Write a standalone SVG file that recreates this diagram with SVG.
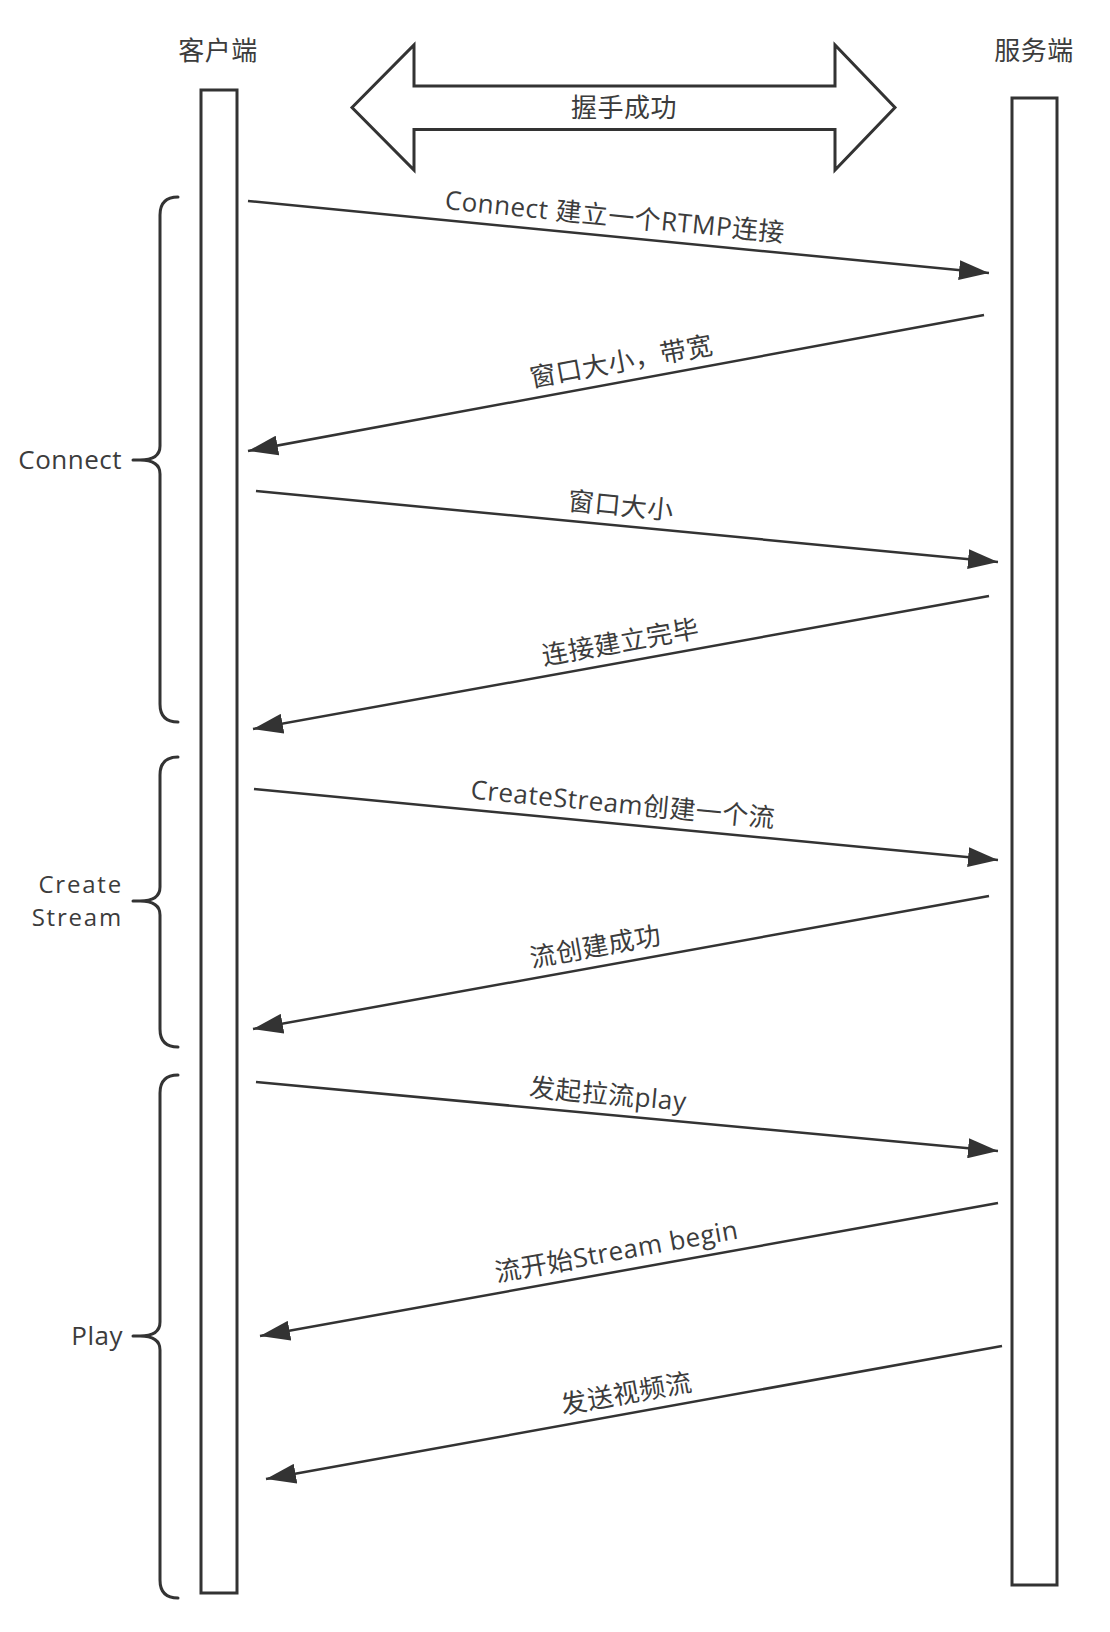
<svg xmlns="http://www.w3.org/2000/svg" width="1110" height="1632" viewBox="0 0 1110 1632">
<defs>
<style>
.t{font-family:"Open Sans","Noto Sans CJK SC",sans-serif;font-size:26px;fill:#3c3c3c;letter-spacing:0.5px}
.s{font-size:24px;letter-spacing:1.8px}
.m{text-anchor:middle}
.e{text-anchor:end}
.box{fill:#fff;stroke:#333;stroke-width:3}
.ln{stroke:#333;stroke-width:2.5;fill:none}
.br{stroke:#333;stroke-width:3;fill:none;stroke-linecap:round}
</style>
<marker id="ah" markerUnits="userSpaceOnUse" markerWidth="30" markerHeight="20" refX="30" refY="10" orient="auto">
<path d="M0,0 L30,10 L0,20 z" fill="#333"/>
</marker>
</defs>
<rect width="1110" height="1632" fill="#fff"/>

<g id="client">
<text class="t m" x="218" y="60">客户端</text>
<rect class="box" x="201" y="90" width="36" height="1503"/>
</g>
<g id="server">
<text class="t m" x="1034" y="60">服务端</text>
<rect class="box" x="1012" y="98" width="45" height="1487"/>
</g>
<g id="handshake">
<polygon class="box" points="352,107.5 414,45 414,86 835,86 835,45 895,107.5 835,170 835,129.5 414,129.5 414,170"/>
<text class="t m" x="624" y="117">握手成功</text>
</g>

<g id="brace-connect">
<path class="br" d="M178,197 Q160,197 160,215 L160,446 Q160,460 140,460 L133,460 M140,460 Q160,460 160,474 L160,704 Q160,722 178,722"/>
<text class="t e" x="122" y="469">Connect</text>
</g>
<g id="brace-create">
<path class="br" d="M178,757 Q160,757 160,775 L160,887 Q160,901 140,901 L133,901 M140,901 Q160,901 160,915 L160,1029 Q160,1047 178,1047"/>
<text class="t s e" x="123" y="893">Create</text>
<text class="t s e" x="123" y="926">Stream</text>
</g>
<g id="brace-play">
<path class="br" d="M178,1075 Q160,1075 160,1093 L160,1322 Q160,1336 140,1336 L133,1336 M140,1336 Q160,1336 160,1350 L160,1580 Q160,1598 178,1598"/>
<text class="t e" x="123" y="1345">Play</text>
</g>

<g id="connectors">
<line class="ln" x1="248" y1="201" x2="989" y2="273" marker-end="url(#ah)"/>
<line class="ln" x1="984" y1="315" x2="248" y2="451" marker-end="url(#ah)"/>
<line class="ln" x1="256" y1="491" x2="998" y2="562" marker-end="url(#ah)"/>
<line class="ln" x1="989" y1="596" x2="253" y2="729" marker-end="url(#ah)"/>
<line class="ln" x1="254" y1="789" x2="998" y2="860" marker-end="url(#ah)"/>
<line class="ln" x1="989" y1="896" x2="253" y2="1029" marker-end="url(#ah)"/>
<line class="ln" x1="256" y1="1082" x2="998" y2="1151" marker-end="url(#ah)"/>
<line class="ln" x1="998" y1="1203" x2="260" y2="1336" marker-end="url(#ah)"/>
<line class="ln" x1="1002" y1="1346" x2="266" y2="1479" marker-end="url(#ah)"/>

<text class="t m" transform="translate(613,236.5) rotate(5.55)" x="0" y="-11">Connect 建立一个RTMP连接</text>
<text class="t m" transform="translate(625,381.3) rotate(-10.47)" x="0" y="-11">窗口大小，带宽</text>
<text class="t m" transform="translate(619,525.7) rotate(5.47)" x="0" y="-11">窗口大小</text>
<text class="t m" transform="translate(624,662) rotate(-10.24)" x="0" y="-11">连接建立完毕</text>
<text class="t m" transform="translate(621,824) rotate(5.45)" x="0" y="-11">CreateStream创建一个流</text>
<text class="t m" transform="translate(599,966.5) rotate(-10.24)" x="0" y="-11">流创建成功</text>
<text class="t m" transform="translate(606,1114.5) rotate(5.31)" x="0" y="-11">发起拉流play</text>
<text class="t m" transform="translate(620,1271) rotate(-10.2)" x="0" y="-11">流开始Stream begin</text>
<text class="t m" transform="translate(630,1413.3) rotate(-10.24)" x="0" y="-11">发送视频流</text>
</g>
</svg>
